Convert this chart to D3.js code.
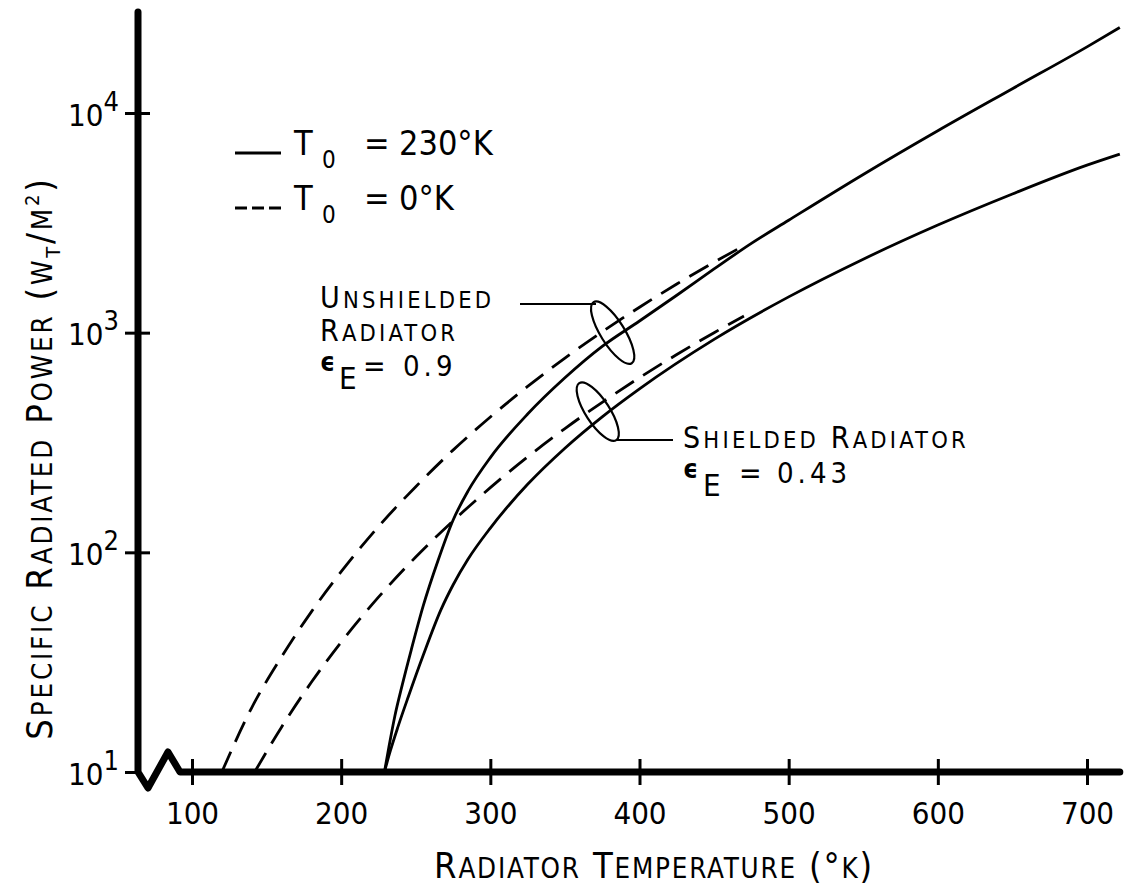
<!DOCTYPE html>
<html>
<head>
<meta charset="utf-8">
<script src="https://cdn.jsdelivr.net/npm/d3@7"></script>
<style>
  body { margin: 0; background: #fff; }
  text { font-family: "DejaVu Sans Condensed", "DejaVu Sans", sans-serif; fill: #000; }
</style>
</head>
<body>
<div id="chart"></div>
<script>
// values (radiator temperature in K, power in W/m^2)
const xTicks = [100, 200, 300, 400, 500, 600, 700];
const yTicks = [10, 100, 1000, 10000];
const yTickExp = ["1", "2", "3", "4"];

const tUnshieldedT0 = [229, 232, 236, 241, 247, 255, 265, 275, 285, 300, 325, 350, 375, 400, 425, 450, 475, 500, 550, 600, 650, 700, 722];
const pUnshieldedT0 = [10, 13, 18, 25, 36, 57, 92, 140, 190, 270, 426, 623, 866, 1130, 1480, 1950, 2550, 3250, 5250, 8300, 12900, 20000, 24500];

const tShieldedT0 = [229, 233, 238, 245, 255, 267, 275, 285, 300, 325, 350, 375, 400, 450, 500, 550, 600, 650, 700, 722];
const pShieldedT0 = [10, 12.5, 16, 22, 34, 55, 71, 93, 129, 204, 298, 414, 555, 932, 1455, 2160, 3090, 4280, 5790, 6500];

const tUnshieldedZero = [120, 140, 160, 180, 200, 225, 250, 275, 300, 325, 350, 375, 400, 425, 450, 470];
const pUnshieldedZero = [10, 19.6, 33.4, 53.6, 81.6, 131, 199, 292, 413, 569, 766, 1009, 1306, 1665, 2093, 2490];

const tShieldedZero = [142, 160, 180, 200, 225, 250, 275, 300, 325, 350, 375, 400, 425, 450, 470];
const pShieldedZero = [10, 16, 25.6, 39, 62.5, 95.2, 139, 197, 272, 366, 482, 624, 795, 1000, 1190];

const width = 1129, height = 892;

const svg = d3.select("#chart").append("svg")
  .attr("width", width)
  .attr("height", height);

const x = d3.scaleLinear().domain([100, 700]).range([192, 1087]);
const y = d3.scaleLog().domain([10, 10000]).range([772, 113]);

const axisLeftX = 138;
const yBase = y(10);

// thick axes with the break at the origin
const axisPts = [
  [axisLeftX, y(28800)],
  [axisLeftX, yBase],
  [axisLeftX + 10, yBase + 16],
  [axisLeftX + 30, yBase - 20],
  [axisLeftX + 42, yBase],
  [x(722), yBase]
];
svg.append("path")
  .attr("d", d3.line()(axisPts))
  .attr("fill", "none")
  .attr("stroke", "#000")
  .attr("stroke-width", 7)
  .attr("stroke-linejoin", "round")
  .attr("stroke-linecap", "round");

// x axis ticks
const gx = svg.append("g")
  .attr("transform", `translate(0,${yBase - 13})`)
  .call(d3.axisBottom(x).tickValues(xTicks).tickSize(26).tickPadding(17).tickFormat(d3.format("d")));
gx.attr("font-family", null).attr("font-size", null);
gx.select(".domain").remove();
gx.selectAll(".tick line").attr("stroke", "#000").attr("stroke-width", 3);
gx.selectAll(".tick text").attr("font-size", 31).attr("fill", "#000");

// y axis ticks
const gy = svg.append("g")
  .attr("transform", `translate(${axisLeftX + 12},0)`)
  .call(d3.axisLeft(y).tickValues(yTicks).tickSize(25).tickFormat(""));
gy.attr("font-family", null).attr("font-size", null);
gy.select(".domain").remove();
gy.selectAll(".tick line")
  .attr("stroke", "#000")
  .attr("stroke-width", 3)
  .attr("x1", d => d === 10 ? -12 : 0);
gy.selectAll(".tick").each(function (d, i) {
  const t = d3.select(this).append("text")
    .attr("x", -31)
    .attr("y", 12)
    .attr("text-anchor", "end")
    .attr("font-size", 31);
  t.append("tspan").text("10");
  t.append("tspan").attr("dy", -15).attr("font-size", 27).text(yTickExp[i]);
});

// curves
const line = d3.line()
  .x(d => x(d[0]))
  .y(d => y(d[1]))
  .curve(d3.curveMonotoneX);

const series = [
  { t: tUnshieldedT0, p: pUnshieldedT0, dash: null },
  { t: tShieldedT0, p: pShieldedT0, dash: null },
  { t: tUnshieldedZero, p: pUnshieldedZero, dash: "22,11" },
  { t: tShieldedZero, p: pShieldedZero, dash: "22,11" }
];
series.forEach(s => {
  svg.append("path")
    .datum(d3.zip(s.t, s.p))
    .attr("d", line)
    .attr("fill", "none")
    .attr("stroke", "#000")
    .attr("stroke-width", 2.8)
    .attr("stroke-dasharray", s.dash);
});

// legend
const legend = [
  { y: 153, dash: null, label: "230°K" },
  { y: 208, dash: "12,5", label: "0°K" }
];
legend.forEach(l => {
  svg.append("line")
    .attr("x1", 235).attr("x2", 281)
    .attr("y1", l.y).attr("y2", l.y)
    .attr("stroke", "#000")
    .attr("stroke-width", 2.8)
    .attr("stroke-dasharray", l.dash);
  const t = svg.append("text").attr("y", l.y + 2).attr("font-size", 34);
  t.append("tspan").attr("x", 294).text("T");
  t.append("tspan").attr("x", 322).attr("dy", 13).attr("font-size", 24).text("0");
  t.append("tspan").attr("x", 364).attr("dy", -13).text("=");
  t.append("tspan").attr("x", 399).text(l.label);
});

// small caps lettering: upper-case letters full size, lower-case ones as small capitals
function addCaps(t, s, big, small) {
  const runs = [];
  for (const ch of s) {
    const size = ch !== ch.toUpperCase() ? small : big;
    const last = runs[runs.length - 1];
    if (last && last.size === size) last.s += ch.toUpperCase();
    else runs.push({ size, s: ch.toUpperCase() });
  }
  runs.forEach(r => t.append("tspan").attr("font-size", r.size).text(r.s));
  return t;
}

const capsText = (tx, ty, s) => addCaps(
  svg.append("text").attr("x", tx).attr("y", ty).attr("letter-spacing", 3.2),
  s, 30, 23.5);

// annotations
function ellipse(cx, cy, rx, ry, ang) {
  svg.append("ellipse")
    .attr("cx", 0).attr("cy", 0)
    .attr("rx", rx).attr("ry", ry)
    .attr("transform", `translate(${cx},${cy}) rotate(${ang})`)
    .attr("fill", "none")
    .attr("stroke", "#000")
    .attr("stroke-width", 2.2);
}
ellipse(x(382), y(1000), 36, 12, 58);
ellipse(x(372), y(437), 34, 12, 57);

svg.append("line")
  .attr("x1", 520).attr("x2", 596).attr("y1", 304).attr("y2", 304)
  .attr("stroke", "#000").attr("stroke-width", 2.2);
svg.append("line")
  .attr("x1", 617).attr("x2", 673).attr("y1", 440).attr("y2", 440)
  .attr("stroke", "#000").attr("stroke-width", 2.2);

function epsLine(x0, yb, value, xs) {
  const t = svg.append("text").attr("y", yb - 5).attr("font-size", 26);
  t.append("tspan").attr("x", x0).attr("font-weight", "bold").text("ϵ");
  t.append("tspan").attr("x", x0 + xs[0]).attr("dy", 18).attr("font-size", 31).text("E");
  t.append("tspan").attr("x", x0 + xs[1]).attr("dy", -13).attr("font-size", 30).text("=");
  t.append("tspan").attr("x", x0 + xs[2]).attr("letter-spacing", 4).attr("font-size", 29).text(value);
}

capsText(320, 308, "Unshielded");
capsText(320, 341, "Radiator");
epsLine(320, 376, "0.9", [19, 43, 83]);

capsText(683, 448, "Shielded Radiator");
epsLine(683, 483, "0.43", [20, 56, 94]);

// axis titles
addCaps(svg.append("text")
  .attr("x", 654).attr("y", 878)
  .attr("text-anchor", "middle")
  .attr("letter-spacing", 1.8),
  "Radiator Temperature (°k)", 36, 27.5);

const yt = svg.append("text")
  .attr("transform", "translate(52,458) rotate(-90)")
  .attr("text-anchor", "middle")
  .attr("letter-spacing", 2.8);
addCaps(yt, "Specific Radiated Power (w", 36, 27.5);
yt.append("tspan").attr("dy", 8).attr("font-size", 20).text("T");
yt.append("tspan").attr("dy", -8).attr("font-size", 36).text("/");
yt.append("tspan").attr("font-size", 27.5).text("M");
yt.append("tspan").attr("dy", -13).attr("font-size", 20).text("2");
yt.append("tspan").attr("dy", 13).attr("font-size", 36).text(")");
</script>
</body>
</html>
